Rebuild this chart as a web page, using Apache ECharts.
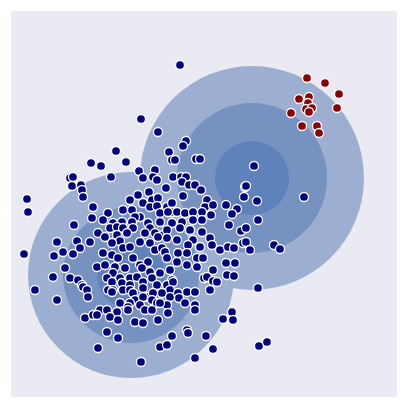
<!DOCTYPE html>
<html>
<head>
<meta charset="utf-8">
<script src="https://cdn.jsdelivr.net/npm/echarts@6/dist/echarts.min.js"></script>
<style>
  html, body { margin: 0; padding: 0; background: #fff; }
  #chart { width: 407px; height: 407px; }
</style>
</head>
<body>
<div id="chart"></div>
<script>
  // contour rings: [cx, cy, radius], drawn outer -> inner
  const ringCenters = [[131, 275], [252, 178]];
  const ringRadii = [[103, 68, 34], [112, 75, 37]];
  const ringColors = ['#9CAFD1', '#7592C1', '#6082BA'];

  // inliers (navy)
  const inliers = [
    [180, 65], [141, 119], [158, 132], [186, 141], [183, 146], [254, 166],
    [116, 151], [126, 162], [91, 163], [101, 166], [111, 177],
    [169, 152], [172, 160], [175, 160], [196, 159], [200, 159],
    [70, 178], [73, 177], [72, 186], [81, 185], [82, 190], [83, 197],
    [139, 171], [143, 178], [155, 170], [153, 177], [157, 180],
    [173, 177], [181, 177], [186, 177], [182, 182], [189, 185], [195, 185], [201, 190],
    [166, 188], [183, 196],
    [149, 192], [138, 195], [130, 200], [143, 203], [152, 200], [158, 198], [150, 207], [157, 206], [167, 207],
    [207, 200], [205, 207], [213, 205],
    [226, 205], [237, 209], [232, 214], [245, 187], [244, 197],
    [172, 203], [172, 212], [93, 207],
    [123, 210], [132, 210], [140, 217], [135, 217], [108, 213],
    [92, 218], [103, 220], [113, 223], [122, 222], [132, 222],
    [160, 213], [168, 212], [177, 212], [185, 213], [193, 212], [202, 212], [211, 215],
    [160, 222], [172, 223], [182, 222], [193, 220], [202, 220],
    [148, 223], [150, 228], [74, 225],
    [110, 228], [117, 227], [123, 228], [133, 228],
    [98, 233], [105, 237], [117, 235], [127, 233],
    [145, 233], [155, 233], [163, 235], [167, 230],
    [180, 228], [190, 230], [202, 232],
    [210, 238], [212, 245], [220, 250], [229, 225], [241, 231], [246, 228],
    [228, 247], [234, 248], [243, 243],
    [193, 240], [188, 245], [200, 247],
    [177, 240], [167, 238], [158, 237],
    [140, 242], [150, 243], [155, 250], [162, 248],
    [120, 241], [112, 243], [123, 248], [130, 247],
    [57, 242], [77, 241], [80, 248], [73, 254], [63, 252], [54, 256], [90, 242],
    [103, 253], [112, 255], [118, 258],
    [133, 258], [140, 265], [148, 262],
    [165, 252], [178, 253], [187, 253], [197, 258], [203, 258],
    [167, 258], [177, 262], [187, 265], [197, 267],
    [226, 263], [235, 263], [227, 275], [234, 276],
    [213, 270], [204, 278], [207, 277], [213, 281], [217, 282],
    [65, 268], [53, 277],
    [97, 267], [105, 265], [115, 267], [125, 268],
    [113, 273], [120, 278], [130, 278], [137, 277],
    [142, 268], [150, 272], [160, 273], [170, 270], [172, 280],
    [70, 278], [78, 280], [82, 285], [83, 287], [87, 290], [88, 297],
    [107, 278], [112, 282], [108, 290], [113, 290],
    [122, 283], [130, 285], [123, 290],
    [143, 282], [152, 278], [157, 285], [167, 285], [173, 282], [170, 290], [162, 293],
    [130, 290], [133, 293], [143, 288], [147, 297], [135, 300], [130, 303],
    [153, 293], [152, 300], [157, 303],
    [170, 297], [178, 293], [187, 292], [195, 292], [179, 298],
    [210, 290], [57, 300], [112, 292], [143, 297],
    [120, 303], [128, 307], [140, 305], [145, 310],
    [167, 305], [168, 313], [160, 303],
    [185, 303], [195, 305], [195, 310],
    [100, 310], [107, 310], [117, 312], [110, 317], [118, 320],
    [85, 318], [93, 315], [97, 315],
    [128, 310], [152, 310], [158, 320], [135, 322], [143, 323],
    [107, 332], [118, 338], [172, 336], [187, 330], [188, 333], [206, 336],
    [223, 319], [232, 312], [233, 320],
    [98, 348], [160, 347], [167, 345], [213, 349],
    [27, 199], [28, 212], [24, 254], [35, 290], [141, 362], [195, 358],
    [259, 346], [267, 342], [258, 288],
    [246, 186], [257, 201], [258, 220], [246, 242], [250, 250], [274, 245], [280, 249], [304, 197]
  ];

  // outliers (dark red)
  const outliers = [
    [307, 78], [325, 83], [339, 94], [337, 108], [299, 99], [309, 97], [308, 103],
    [306, 109], [312, 108], [309, 112], [291, 113], [302, 126], [317, 126], [319, 133]
  ];

  const rings = [];
  for (let level = 0; level < 3; level++) {
    ringCenters.forEach((c, i) => {
      rings.push([c[0], c[1], ringRadii[i][level], level]);
    });
  }

  const chart = echarts.init(document.getElementById('chart'));
  chart.setOption({
    animation: false,
    backgroundColor: '#ffffff',
    grid: {
      left: 11, right: 10, top: 11, bottom: 10,
      show: true,
      backgroundColor: '#EAEAF2',
      borderWidth: 0
    },
    xAxis: {
      type: 'value', min: 11, max: 397,
      show: false
    },
    yAxis: {
      type: 'value', min: 11, max: 397, inverse: true,
      show: false
    },
    series: [
      {
        type: 'custom',
        data: rings,
        clip: true,
        renderItem: function (params, api) {
          const p = api.coord([api.value(0), api.value(1)]);
          const r = api.size([api.value(2), 0])[0];
          return {
            type: 'circle',
            shape: { cx: p[0], cy: p[1], r: r },
            style: { fill: ringColors[api.value(3)] }
          };
        },
        silent: true
      },
      {
        type: 'scatter',
        data: inliers,
        symbolSize: 9,
        itemStyle: { color: '#000080', borderColor: '#ffffff', borderWidth: 1.3, opacity: 1 }
      },
      {
        type: 'scatter',
        data: outliers,
        symbolSize: 9,
        itemStyle: { color: '#8B0000', borderColor: '#ffffff', borderWidth: 1.3, opacity: 1 }
      }
    ]
  });
</script>
</body>
</html>
